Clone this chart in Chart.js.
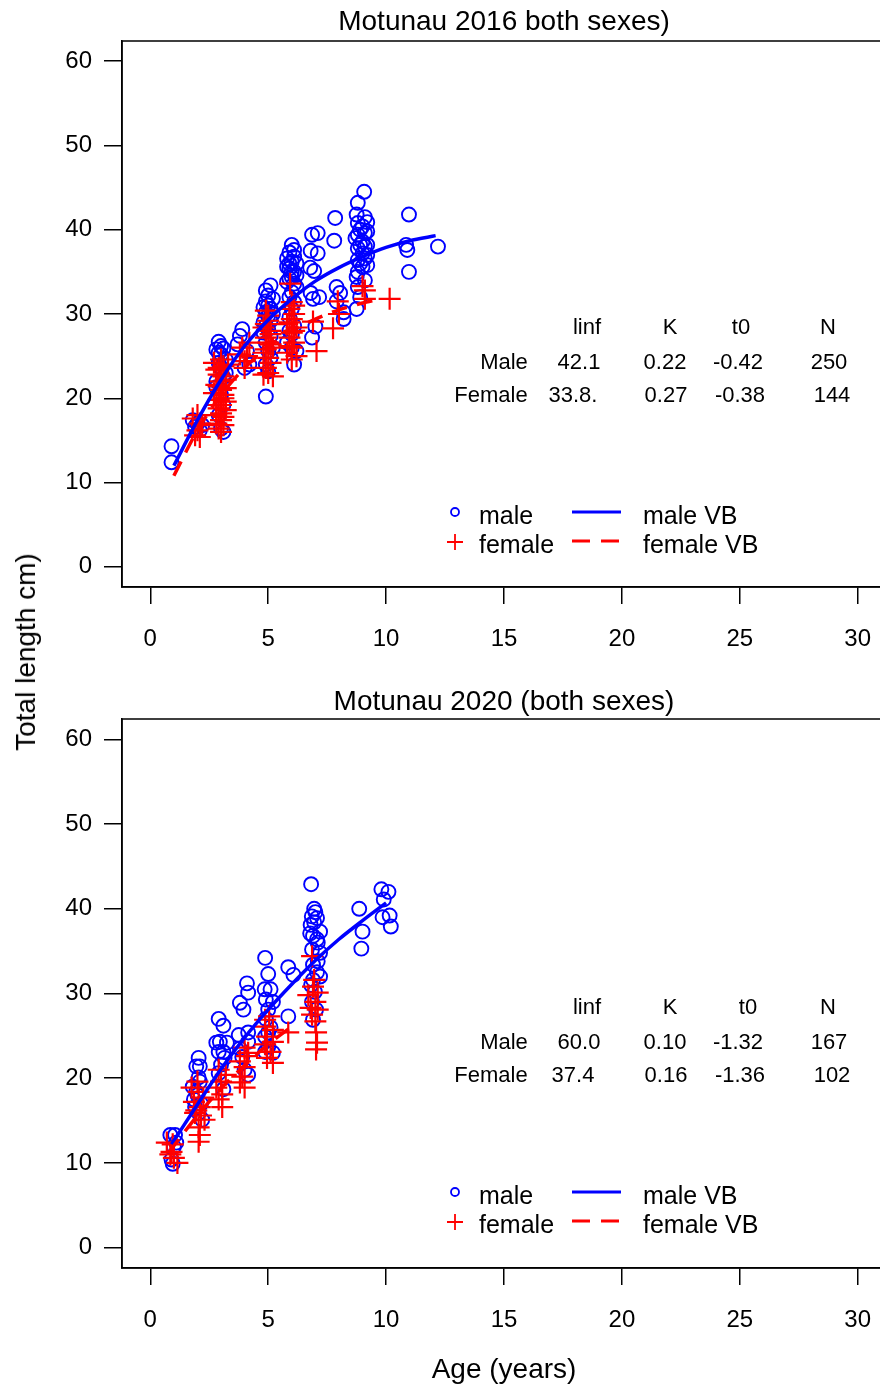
<!DOCTYPE html>
<html>
<head>
<meta charset="utf-8">
<script src="https://cdn.jsdelivr.net/npm/chart.js@4.4.1/dist/chart.umd.min.js"></script>
<style>
  html, body { margin: 0; padding: 0; background: #fff; }
  body { position: relative; width: 880px; height: 1389px; overflow: hidden;
         font-family: "Liberation Sans", Arial, sans-serif; color: #000; }
  canvas { position: absolute; left: 0; }
  #c1 { top: 0; }
  #c2 { top: 680px; }
  .t { position: absolute; white-space: nowrap; line-height: 1; transform: translate(-50%, -50%); }
  .l { transform: translate(0, -50%); }
</style>
</head>
<body>
<canvas id="c1" width="900" height="680"></canvas>
<canvas id="c2" width="900" height="709"></canvas>
<script>
// ===== DATA =====
const xTicks = [0, 5, 10, 15, 20, 25, 30];
const yTicks = [0, 10, 20, 30, 40, 50, 60];

// 2016 sample, [age, total length]
const male2016 = [
  [0.9, 14.3], [0.9, 12.4],
  [1.8, 17.4], [2.0, 17.0], [2.2, 16.8], [1.9, 16.6], [2.1, 16.2],
  [2.8, 25.8], [2.9, 26.7], [3.0, 25.2], [3.1, 25.9], [3.2, 24.6], [2.9, 24.2], [3.0, 23.6],
  [3.1, 22.5], [2.8, 21.3], [3.0, 20.4], [3.1, 19.2], [2.9, 18.0], [3.0, 16.4], [3.1, 16.0],
  [3.2, 23.0], [2.8, 22.0], [3.0, 26.2], [2.9, 25.4],
  [3.8, 27.4], [3.9, 28.2], [4.1, 25.6], [4.2, 24.0], [4.0, 23.6], [3.7, 26.4],
  [4.9, 20.2], [5.1, 33.4], [4.9, 31.5], [5.0, 31.0], [5.1, 30.6], [4.9, 30.2], [5.0, 29.8],
  [5.2, 31.8], [4.8, 29.0], [5.0, 28.2], [5.1, 27.4], [4.9, 26.6], [5.0, 25.6], [5.1, 24.8],
  [4.9, 24.0], [5.0, 23.2], [5.2, 26.0], [4.8, 27.8], [5.0, 32.2], [4.9, 32.8], [5.2, 30.0],
  [4.8, 30.8], [5.1, 29.2], [4.9, 28.6],
  [6.0, 38.2], [5.9, 37.3], [6.1, 37.6], [5.8, 36.6], [6.0, 36.2], [6.2, 36.0], [5.9, 35.4],
  [6.1, 35.0], [6.0, 34.4], [5.8, 33.8], [6.2, 33.2], [6.0, 32.6], [5.9, 32.0], [6.1, 31.4],
  [6.0, 30.6], [5.9, 29.6], [6.1, 28.6], [6.0, 27.6], [5.8, 26.6], [6.2, 25.6], [6.1, 24.0],
  [6.0, 26.0], [5.9, 28.0], [6.1, 36.8], [5.9, 36.0], [6.0, 35.0], [6.2, 34.6], [5.8, 35.6],
  [6.1, 33.6], [5.9, 34.2],
  [6.86, 39.4], [7.1, 39.6], [6.8, 37.5], [7.1, 37.2], [6.78, 35.5], [6.95, 35.1], [6.8, 32.5],
  [7.16, 32.0], [6.9, 31.8], [7.0, 28.5], [6.86, 27.2],
  [7.84, 41.4], [7.8, 38.7], [7.9, 33.2], [8.05, 32.5], [7.9, 31.5], [8.2, 30.2], [8.2, 29.4],
  [9.07, 44.5], [8.8, 43.2], [8.75, 41.8], [9.1, 41.5], [8.8, 40.8], [9.2, 40.9], [8.9, 40.0],
  [9.1, 39.6], [8.7, 39.0], [9.0, 38.6], [9.2, 38.2], [8.8, 37.8], [9.0, 37.2], [9.1, 36.6],
  [8.9, 36.0], [9.0, 35.6], [8.8, 35.0], [9.2, 35.8], [8.75, 34.4], [9.1, 34.0], [8.8, 33.2],
  [8.9, 32.0], [8.75, 30.6], [9.1, 38.0], [8.8, 39.4], [9.2, 39.8], [8.9, 38.2], [9.0, 40.4],
  [8.8, 36.4], [9.2, 37.0],
  [10.97, 41.8], [10.85, 38.2], [10.9, 37.6], [10.97, 35.0], [12.2, 38.0]
];
const female2016 = [
  [1.8, 17.6], [2.0, 18.0], [2.0, 16.2], [2.1, 15.4], [2.2, 16.8], [1.9, 15.6], [2.1, 17.0],
  [2.7, 24.2], [2.8, 23.4], [2.9, 22.8], [3.0, 24.6], [3.1, 23.8], [3.2, 22.2], [2.8, 21.6],
  [3.0, 21.0], [3.1, 20.4], [2.9, 19.8], [3.0, 19.2], [3.2, 18.6], [2.8, 18.0], [3.0, 17.4],
  [3.1, 16.8], [2.9, 16.4], [3.0, 22.0], [3.1, 20.0], [2.8, 19.2], [3.0, 18.2], [3.2, 21.2],
  [2.9, 23.6], [3.3, 24.0], [2.7, 20.6], [3.0, 16.0], [2.9, 21.4], [3.1, 22.6], [2.8, 17.0],
  [3.2, 19.6], [2.9, 18.8], [3.1, 17.8],
  [3.9, 26.0], [4.0, 24.4], [3.8, 25.2], [4.2, 26.6], [4.0, 23.6], [4.1, 25.0],
  [4.9, 30.4], [5.0, 29.2], [4.8, 28.4], [5.1, 28.0], [4.9, 27.2], [5.0, 26.6], [5.2, 26.0],
  [4.8, 25.4], [5.0, 24.8], [5.1, 24.2], [4.9, 23.6], [5.0, 23.0], [5.2, 22.6], [4.9, 25.8],
  [5.1, 27.6], [5.0, 29.8], [4.8, 22.8], [5.1, 26.4], [4.9, 28.8],
  [5.93, 33.6], [6.0, 31.4], [5.9, 30.6], [6.1, 30.0], [6.0, 29.4], [5.8, 28.8], [6.2, 28.4],
  [6.0, 27.8], [5.9, 27.2], [6.1, 26.6], [6.0, 26.0], [5.8, 25.4], [6.2, 25.0], [6.0, 24.6],
  [6.1, 31.0], [5.9, 29.0], [6.1, 28.0], [5.9, 26.2],
  [6.9, 29.1], [7.05, 25.6], [7.75, 28.3], [7.95, 31.5], [8.0, 30.0],
  [9.0, 33.3], [9.1, 32.8], [9.1, 31.8], [10.15, 31.8]
];
const maleVBAge2016 = [1, 2, 3, 4, 5, 6, 7, 8, 9, 10, 11, 12.1];
const maleVBLen2016 = [12.0, 17.4, 22.2, 26.2, 29.3, 31.8, 33.9, 35.5, 36.8, 37.9, 38.7, 39.3];
const femaleVBAge2016 = [1, 2, 3, 4, 5, 6, 7, 8, 9, 9.6];
const femaleVBLen2016 = [10.8, 16.2, 20.4, 23.6, 26.1, 28.0, 29.4, 30.5, 31.3, 31.7];

// 2020 sample
const male2020 = [
  [0.85, 13.3], [1.05, 13.3], [0.9, 10.4], [0.95, 9.9], [1.0, 11.9], [1.1, 12.4],
  [2.05, 22.4], [1.95, 21.4], [2.1, 21.4], [2.05, 20.1], [1.8, 19.0], [1.95, 18.4], [1.85, 17.5],
  [2.05, 15.9], [2.2, 15.1], [1.9, 16.6], [2.1, 19.6], [2.0, 18.0], [2.15, 17.0],
  [2.9, 27.0], [3.1, 26.2], [2.8, 24.2], [2.95, 24.3], [3.25, 24.2], [2.9, 23.1], [3.1, 23.1],
  [3.15, 22.4], [3.1, 18.7], [2.9, 20.6], [3.0, 21.6],
  [3.8, 28.9], [4.1, 31.2], [4.15, 30.1], [3.95, 28.1], [3.75, 25.1], [4.15, 25.4], [4.15, 24.3],
  [3.8, 23.5], [4.0, 21.0], [4.15, 20.4], [3.9, 22.5],
  [4.87, 34.2], [5.0, 32.3], [4.85, 30.5], [5.1, 30.5], [4.9, 29.3], [5.2, 29.0], [5.0, 28.1],
  [4.9, 27.0], [5.1, 26.0], [4.87, 24.9], [5.0, 23.7], [4.87, 23.1], [5.2, 23.0], [5.0, 25.4],
  [5.85, 33.1], [6.07, 32.2], [5.85, 27.3],
  [6.82, 42.9], [6.95, 40.0], [6.85, 39.1], [7.07, 38.9], [6.8, 38.1], [7.2, 37.3], [6.78, 37.1],
  [7.07, 36.4], [6.86, 35.2], [7.2, 34.8], [6.9, 33.4], [7.07, 32.5], [7.2, 32.0], [6.82, 31.0],
  [6.98, 30.2], [6.86, 29.0], [7.03, 28.1], [6.9, 26.9], [7.1, 36.0], [6.9, 36.8], [7.0, 39.6],
  [6.95, 38.4], [7.1, 33.8], [6.9, 31.6],
  [8.86, 40.0], [9.0, 37.3], [8.95, 35.3],
  [9.8, 42.3], [10.1, 42.0], [9.9, 41.1], [9.85, 39.0], [10.15, 39.2], [10.2, 37.9]
];
const female2020 = [
  [0.7, 12.4], [0.95, 12.2], [0.9, 11.3], [1.15, 10.0], [0.85, 11.0], [1.0, 10.6],
  [1.75, 18.9], [2.05, 18.4], [2.25, 17.7], [1.85, 17.2], [2.1, 16.6], [1.9, 15.9], [2.3, 15.1],
  [2.05, 14.2], [2.1, 13.3], [2.05, 12.5], [2.0, 19.6], [1.95, 16.2], [2.15, 15.6],
  [2.9, 21.0], [3.2, 20.4], [3.0, 19.6], [2.8, 18.9], [3.05, 18.1], [2.9, 17.5], [3.05, 16.6],
  [4.0, 23.6], [4.15, 23.0], [3.8, 22.0], [4.0, 21.3], [3.9, 20.2], [3.8, 19.5], [4.0, 18.9],
  [4.1, 22.6],
  [5.04, 27.3], [4.87, 26.1], [5.2, 25.7], [4.95, 24.9], [5.2, 24.3], [4.87, 24.0], [5.1, 23.1],
  [4.95, 22.4], [5.2, 21.8], [4.87, 26.9], [5.85, 25.4],
  [6.86, 34.4], [6.9, 30.8], [7.1, 30.1], [6.7, 29.8], [7.0, 29.0], [6.8, 28.3], [7.1, 28.1],
  [6.86, 27.5], [7.0, 26.7], [7.03, 25.4], [7.07, 24.2], [7.03, 23.4], [6.95, 31.6]
];
const maleVBAge2020 = [0.9, 2, 3, 4, 5, 6, 7, 8, 9, 10];
const maleVBLen2020 = [12.2, 16.9, 21.1, 24.8, 28.1, 31.1, 33.9, 36.4, 38.6, 40.7];
const femaleVBAge2020 = [0.8, 2, 3, 4, 5, 6.1];
const femaleVBLen2020 = [11.3, 15.6, 18.8, 21.5, 24.0, 26.3];

const paramHead = ['linf', 'K', 't0', 'N'];
const params2016 = { Male: ['42.1', '0.22', '-0.42', '250'], Female: ['33.8.', '0.27', '-0.38', '144'] };
const params2020 = { Male: ['60.0', '0.10', '-1.32', '167'], Female: ['37.4', '0.16', '-1.36', '102'] };

// ===== RENDERING =====
const BLUE = '#0000ff';
const RED = '#ff0000';
const FONT = "'Liberation Sans', Arial, sans-serif";

const toXY = pts => pts.map(p => ({ x: p[0], y: p[1] }));
const zipXY = (xs, ys) => xs.map((x, i) => ({ x, y: ys[i] }));

// R-style box around the plot region plus the little legend keys
const rBox = {
  id: 'rBox',
  afterDraw(chart) {
    const { ctx, chartArea: a } = chart;
    ctx.save();
    ctx.strokeStyle = '#000';
    ctx.lineWidth = 1.5;
    ctx.strokeRect(a.left, a.top, a.right - a.left, a.bottom - a.top);

    // legend keys (canvas px)
    ctx.strokeStyle = BLUE;
    ctx.lineWidth = 1.8;
    ctx.beginPath(); ctx.arc(455, 512, 4, 0, Math.PI * 2); ctx.stroke();
    ctx.lineWidth = 3.2;
    ctx.beginPath(); ctx.moveTo(572, 512); ctx.lineTo(621, 512); ctx.stroke();
    ctx.strokeStyle = RED;
    ctx.lineWidth = 1.8;
    ctx.beginPath();
    ctx.moveTo(447, 542); ctx.lineTo(463, 542);
    ctx.moveTo(455, 534); ctx.lineTo(455, 550);
    ctx.stroke();
    ctx.lineWidth = 3.2;
    ctx.setLineDash([18, 11]);
    ctx.beginPath(); ctx.moveTo(572, 541); ctx.lineTo(622, 541); ctx.stroke();
    ctx.restore();
  }
};

function makePanel(id, males, females, mLine, fLine, pad) {
  return new Chart(document.getElementById(id), {
    type: 'scatter',
    data: {
      datasets: [
        { label: 'male', data: toXY(males), pointStyle: 'circle', pointRadius: 7,
          borderColor: BLUE, backgroundColor: 'rgba(0,0,0,0)', pointBorderWidth: 1.9, order: 3 },
        { label: 'female', data: toXY(females), pointStyle: 'cross', pointRadius: 11,
          borderColor: RED, backgroundColor: RED, pointBorderWidth: 2.2, order: 2 },
        { label: 'male VB', data: mLine, showLine: true, pointRadius: 0, borderColor: BLUE,
          borderWidth: 3.5, tension: 0.3, order: 1 },
        { label: 'female VB', data: fLine, showLine: true, pointRadius: 0, borderColor: RED,
          borderWidth: 3.5, borderDash: [16, 10], tension: 0.3, order: 0 }
      ]
    },
    options: {
      responsive: false,
      devicePixelRatio: 1,
      animation: false,
      layout: { padding: pad },
      plugins: { legend: { display: false }, tooltip: { enabled: false }, title: { display: false } },
      scales: {
        x: {
          type: 'linear', min: -1.2, max: 31.2,
          afterBuildTicks: s => { s.ticks = xTicks.map(v => ({ value: v })); },
          afterFit: s => { s.height = 93; },
          ticks: { color: '#000', font: { family: FONT, size: 24 }, padding: 21, maxRotation: 0 },
          grid: { drawOnChartArea: false, drawTicks: true, tickLength: 17, color: '#000', lineWidth: 1.5 },
          border: { display: true, color: '#000', width: 1.5 }
        },
        y: {
          type: 'linear', min: -2.4, max: 62.4,
          afterBuildTicks: s => { s.ticks = yTicks.map(v => ({ value: v })); },
          afterFit: s => { s.width = 122; },
          ticks: { color: '#000', font: { family: FONT, size: 24 }, padding: 12 },
          grid: { drawOnChartArea: false, drawTicks: true, tickLength: 18, color: '#000', lineWidth: 1.5 },
          border: { display: true, color: '#000', width: 1.5 }
        }
      }
    },
    plugins: [rBox]
  });
}

makePanel('c1', male2016, female2016,
  zipXY(maleVBAge2016, maleVBLen2016), zipXY(femaleVBAge2016, femaleVBLen2016),
  { top: 41, right: 14, bottom: 0, left: 0 });
makePanel('c2', male2020, female2020,
  zipXY(maleVBAge2020, maleVBLen2020), zipXY(femaleVBAge2020, femaleVBLen2020),
  { top: 39, right: 14, bottom: 28, left: 0 });

// ===== TEXT =====
function put(text, x, y, size, cls) {
  const d = document.createElement('div');
  d.className = 't' + (cls ? ' ' + cls : '');
  d.textContent = text;
  d.style.left = x + 'px';
  d.style.top = y + 'px';
  d.style.fontSize = size + 'px';
  document.body.appendChild(d);
  return d;
}

function panelText(title, params, dy, t0x) {
  put(title, 504, 21 + dy, 28);
  const hx = [587, 670, t0x, 828];
  paramHead.forEach((h, i) => put(h, hx[i], 327 + dy, 22));
  put('Male', 504, 362 + dy, 22);
  put('Female', 491, 395 + dy, 22);
  const vx = [579, 665, 738, 829];
  const fx = [573, 666, 740, 832];
  params.Male.forEach((v, i) => put(v, vx[i], 362 + dy, 22));
  params.Female.forEach((v, i) => put(v, fx[i], 395 + dy, 22));
  put('male', 479, 515 + dy, 25, 'l');
  put('female', 479, 544 + dy, 25, 'l');
  put('male VB', 643, 515 + dy, 25, 'l');
  put('female VB', 643, 544 + dy, 25, 'l');
}

panelText('Motunau 2016 both sexes)', params2016, 0, 741);
panelText('Motunau 2020 (both sexes)', params2020, 680, 748);

put('Age (years)', 504, 1369, 28);
const yl = put('Total length cm)', 26, 652, 28);
yl.style.transform = 'translate(-50%, -50%) rotate(-90deg)';
</script>
</body>
</html>
